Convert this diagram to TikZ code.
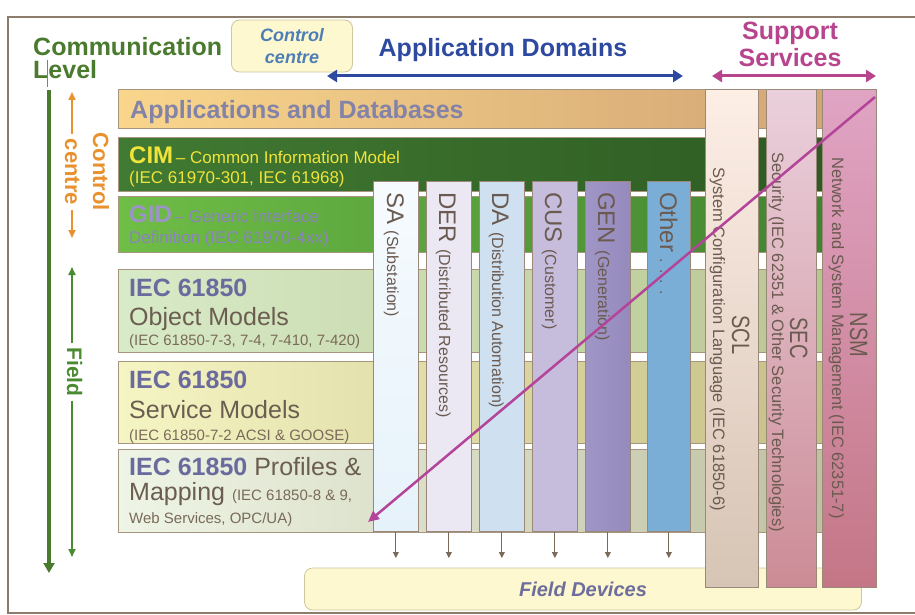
\documentclass[tikz,border=0pt]{standalone}
\usepackage{fontspec}
\setmainfont{Liberation Sans}
\newfontfamily\narrowfont[FakeStretch=0.8]{Liberation Sans}
\usetikzlibrary{arrows.meta, positioning}

\newcommand{\fsz}[1]{\fontsize{#1}{#1}\selectfont}

\definecolor{framecol}{HTML}{8C7C6C}
\definecolor{barline}{HTML}{A8957F}
\definecolor{colline}{HTML}{9A8878}
\definecolor{apptxt}{HTML}{8383A9}
\definecolor{cimyel}{HTML}{F0E43A}
\definecolor{gidhead}{HTML}{9D93C9}
\definecolor{gidtxt}{HTML}{8C83BD}
\definecolor{iechead}{HTML}{6A6A9E}
\definecolor{iecbody}{HTML}{6B5D50}
\definecolor{iecsmall}{HTML}{7A6A5A}
\definecolor{domtext}{HTML}{6A5A50}
\definecolor{tickcol}{HTML}{7A6A5A}
\definecolor{commgreen}{HTML}{4A7A2E}
\definecolor{axisgreen}{HTML}{4A8A30}
\definecolor{ctrorange}{HTML}{E8912E}
\definecolor{domblue}{HTML}{2E4AA0}
\definecolor{suppink}{HTML}{B8448E}
\definecolor{diagmag}{HTML}{B4449A}
\definecolor{boxfill}{HTML}{FDF8D0}
\definecolor{boxline}{HTML}{D0C69C}
\definecolor{boxblue}{HTML}{4D7EB5}
\definecolor{fdtext}{HTML}{6E6E9C}
% layer fills
\definecolor{appL}{HTML}{F9D68C}\definecolor{appR}{HTML}{D2A474}
\definecolor{cimL}{HTML}{417A32}\definecolor{cimR}{HTML}{2D5A22}
\definecolor{gidL}{HTML}{6FBE46}\definecolor{gidR}{HTML}{3F8030}
\definecolor{objL}{HTML}{D8EBC8}\definecolor{objR}{HTML}{B7C58F}
\definecolor{srvL}{HTML}{F5F5C3}\definecolor{srvR}{HTML}{C4BC84}
\definecolor{prfL}{HTML}{EFF5E6}\definecolor{prfR}{HTML}{BDBF9F}
% domain fills
\definecolor{saT}{HTML}{F6FBFE}\definecolor{saB}{HTML}{E6F2FA}
\definecolor{derF}{HTML}{EBE7F3}
\definecolor{daF}{HTML}{CFE0F1}
\definecolor{cusF}{HTML}{C6BCDC}
\definecolor{genL}{HTML}{A096C6}\definecolor{genR}{HTML}{958ABC}
\definecolor{othF}{HTML}{7AAED6}
% support fills
\definecolor{sclT}{HTML}{FDEEE6}\definecolor{sclB}{HTML}{D6C4B4}
\definecolor{secT}{HTML}{EAD0DC}\definecolor{secB}{HTML}{CC8C96}
\definecolor{nsmT}{HTML}{E0A4C4}\definecolor{nsmB}{HTML}{C47686}

\begin{document}
\begin{tikzpicture}[x=1pt,y=-1pt,
    frame/.style={draw=framecol,line width=1.2pt},
    bar/.style={draw=barline,line width=0.8pt,anchor=north west,minimum width=732pt,inner sep=0pt},
    dom/.style={draw=colline,line width=0.7pt,anchor=north west,minimum width=45pt,minimum height=350pt,inner sep=0pt},
    supp/.style={draw=colline,line width=0.7pt,anchor=north west,minimum height=498pt,inner sep=0pt},
    btxt/.style={anchor=base west,inner sep=0pt},
    domtxt/.style={rotate=-90,anchor=base west,inner sep=0pt,text=domtext},
    suptxt/.style={rotate=-90,anchor=base,inner sep=0pt,text=domtext},
    yelbox/.style={draw=boxline,fill=boxfill,line width=0.8pt,rounded corners=8pt,inner sep=0pt},
    tick/.style={draw=tickcol,line width=0.8pt,-{Triangle[length=6pt,width=6pt]}},
    span/.style={line width=3pt,{Triangle[length=10pt,width=12pt]}-{Triangle[length=10pt,width=12pt]}},
    thinax/.style={line width=1.8pt,-{Triangle[length=8pt,width=7pt]}}]

\useasboundingbox (0,0) rectangle (915,615);
\draw[frame] (915,17) -- (8,17) -- (8,613) -- (915,613);

% titles
\node[btxt,text=commgreen,font=\fsz{25}\bfseries] (comm) at (33,56) {Communication};
\node[btxt,text=commgreen,font=\fsz{25}\bfseries] (level) at (33,79) {Level};
\draw[gray,line width=0.6pt] (47,60) -- (47,87);
\node[yelbox,minimum width=121pt,minimum height=52pt,text=boxblue,align=center,
      font=\fontsize{18}{22}\selectfont\bfseries\itshape] (ctrbox) at (292,46) {Control\\centre};
\node[anchor=base,inner sep=0pt,text=domblue,font=\fsz{25}\bfseries] (appdom) at (503,57) {Application Domains};
\node[anchor=base,inner sep=0pt,text=suppink,font=\fsz{25}\bfseries] (supp1) at (790,40) {Support};
\node[anchor=base,inner sep=0pt,text=suppink,font=\fsz{25}\bfseries] (supp2) at (790,67) {Services};
\coordinate (ad0) at (327,76);
\coordinate (ad1) at (683,76);
\coordinate (ss0) at (712,76);
\coordinate (ss1) at (876,76);
\draw[span,domblue] (ad0) -- (ad1);
\draw[span,suppink] (ss0) -- (ss1);

% left axes
\coordinate (lv0) at (49,90);
\coordinate (lv1) at (49,573);
\draw[commgreen,line width=3.5pt,-{Triangle[length=10pt,width=11pt]}] (lv0) -- (lv1);
\node[rotate=-90,anchor=base,inner sep=0pt,text=ctrorange,font=\fsz{22}\bfseries] (ctrl) at (93,172) {Control};
\node[rotate=-90,anchor=base,inner xsep=5pt,inner ysep=0pt,text=ctrorange,font=\fsz{22}\bfseries] (ctre) at (65,172) {centre};
\coordinate (cu) at (72,92);
\coordinate (cd) at (72,238);
\draw[thinax,ctrorange] (ctre.west -| cu) -- (cu);
\draw[thinax,ctrorange] (ctre.east -| cd) -- (cd);
\node[rotate=-90,anchor=base,inner xsep=4pt,inner ysep=0pt,text=axisgreen,font=\fsz{21}\bfseries] (fld) at (67,372) {Field};
\coordinate (fu) at (72,267);
\coordinate (fd) at (72,557);
\draw[thinax,axisgreen] (fld.west -| fu) -- (fu);
\draw[thinax,axisgreen] (fld.east -| fd) -- (fd);

% layers
\node[bar,minimum height=39pt,left color=appL,right color=appR] (appdb) at (118,89) {};
\node[bar,minimum height=54pt,left color=cimL,right color=cimR] (cim) at (118,137) {};
\node[bar,minimum height=56pt,left color=gidL,right color=gidR] (gid) at (118,196) {};
\node[bar,minimum height=83pt,left color=objL,right color=objR] (objm) at (118,269) {};
\node[bar,minimum height=82pt,left color=srvL,right color=srvR] (srvm) at (118,361) {};
\node[bar,minimum height=83pt,left color=prfL,right color=prfR] (prof) at (118,449) {};

\node[btxt,text=apptxt,font=\fsz{25}\bfseries] (appt) at (130,118) {Applications and Databases};
\node[btxt,text=cimyel] (cimt) at (129,163) {{\fsz{24}\bfseries CIM} \fsz{17}-- Common Information Model};
\node[btxt,text=cimyel,font=\fsz{17}] (cimt2) at (129,183) {(IEC 61970-301, IEC 61968)};
\node[btxt,text=gidtxt] (gidt) at (129,222) {{\fsz{24}\bfseries\color{gidhead}GID} \fsz{17}-- Generic Interface};
\node[btxt,text=gidtxt,font=\fsz{17}] (gidt2) at (129,243) {Definition (IEC 61970-4xx)};
\node[btxt,text=iechead,font=\fsz{25}\bfseries] (objt) at (129,296) {IEC 61850};
\node[btxt,text=iecbody,font=\fsz{25}] (objt2) at (129,325) {Object Models};
\node[btxt,text=iecsmall,font=\fsz{15}] (objt3) at (129,345) {(IEC 61850-7-3, 7-4, 7-410, 7-420)};
\node[btxt,text=iechead,font=\fsz{25}\bfseries] (srvt) at (129,388) {IEC 61850};
\node[btxt,text=iecbody,font=\fsz{25}] (srvt2) at (129,418) {Service Models};
\node[btxt,text=iecsmall,font=\fsz{15}] (srvt3) at (129,440) {(IEC 61850-7-2 ACSI \& GOOSE)};
\node[btxt,text=iecbody,font=\fsz{25}] (proft) at (129,475) {{\bfseries\color{iechead}IEC 61850} Profiles \&};
\node[btxt,text=iecbody,font=\fsz{25}] (proft2) at (129,500) {Mapping {\fsz{15}\color{iecsmall}(IEC 61850-8 \& 9,}};
\node[btxt,text=iecsmall,font=\fsz{15}] (proft3) at (129,523) {Web Services, OPC/UA)};

% application domains
\node[dom,top color=saT,bottom color=saB] (sa) at (373,181) {};
\node[dom,fill=derF] (der) at (426,181) {};
\node[dom,fill=daF] (da) at (479,181) {};
\node[dom,fill=cusF] (cus) at (532,181) {};
\node[dom,left color=genL,right color=genR] (gen) at (585,181) {};
\node[dom,fill=othF,minimum width=43pt] (oth) at (647,181) {};
\node[domtxt] (sat) at (387,192) {\fsz{24}SA \fsz{16}(Substation)};
\node[domtxt] (dert) at (439,192) {\fsz{24}DER \fsz{16}(Distributed Resources)};
\node[domtxt] (dat) at (492,192) {\fsz{24}DA \fsz{16}(Distribution Automation)};
\node[domtxt] (cust) at (545,192) {\fsz{24}CUS \fsz{16}(Customer)};
\node[domtxt] (gent) at (598,192) {\fsz{24}GEN \fsz{16}(Generation)};
\node[domtxt] (otht) at (660,192) {\fsz{24}Other \fsz{16}. . . .};

% field devices
\node[yelbox,minimum width=557pt,minimum height=42pt,text=fdtext,font=\fsz{20}\bfseries\itshape] (fdev) at (583,589) {Field Devices};
\coordinate (fdtop) at (0,558);
\foreach \c in {sa,der,da,cus,gen,oth}
  \draw[tick] (\c.south) -- (\c.south |- fdtop);

% support services
\node[supp,minimum width=53pt,top color=sclT,bottom color=sclB] (scl) at (705,89) {};
\node[supp,minimum width=50pt,top color=secT,bottom color=secB] (sec) at (766,89) {};
\node[supp,minimum width=54pt,top color=nsmT,bottom color=nsmB] (nsm) at (822,89) {};
\node[suptxt,font=\fsz{25}\narrowfont] (sclt) at (732,335) {SCL};
\node[suptxt,font=\fsz{16.5}] (sclt2) at (713,339) {System Configuration Language (IEC 61850-6)};
\node[suptxt,font=\fsz{25}\narrowfont] (sect) at (790,338) {SEC};
\node[suptxt,font=\fsz{16.5}] (sect2) at (772,342) {Security (IEC 62351 \& Other Security Technologies)};
\node[suptxt,font=\fsz{25}\narrowfont] (nsmt) at (850,335) {NSM};
\node[suptxt,font=\fsz{16.5}] (nsmt2) at (832,338) {Network and System Management (IEC 62351-7)};

% diagonal
\coordinate (dg0) at (875,97);
\coordinate (dg1) at (368,522);
\draw[diagmag,line width=2.5pt,-{Triangle[length=11pt,width=10pt]}] (dg0) -- (dg1);
\end{tikzpicture}
\end{document}
